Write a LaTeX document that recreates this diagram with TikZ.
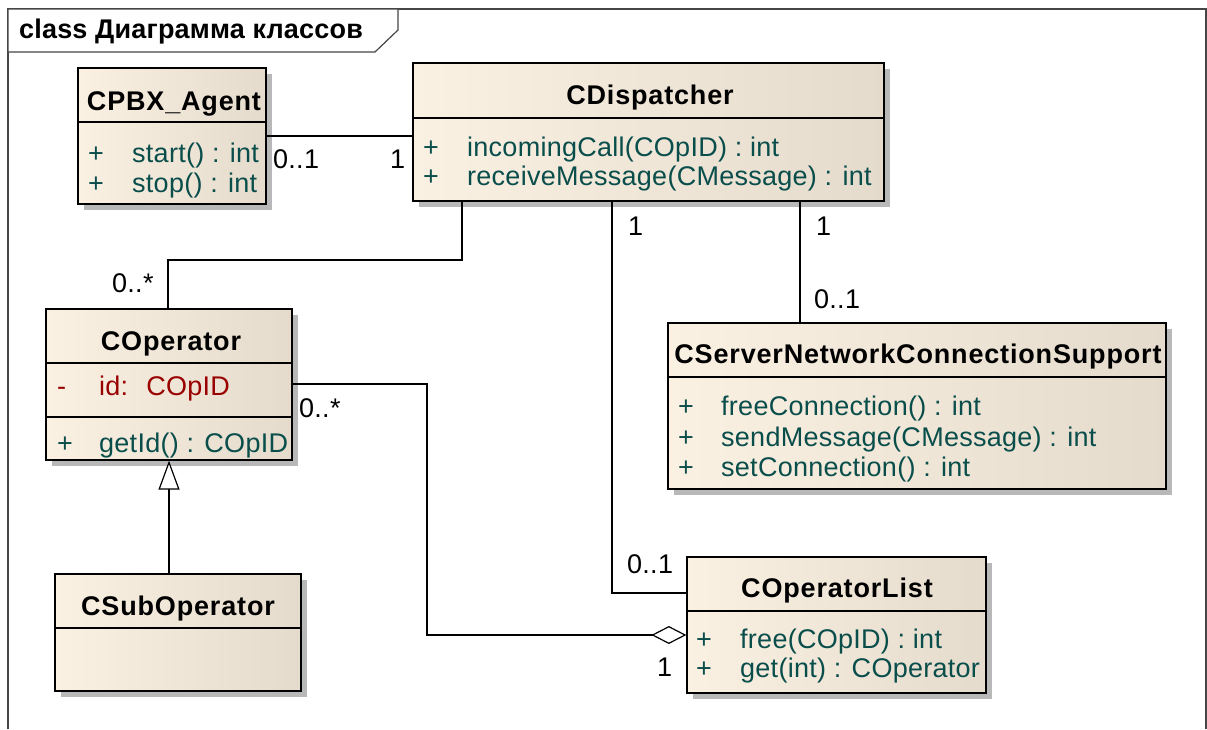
\documentclass[tikz,border=0pt]{standalone}
\usepackage{fontspec}
\setmainfont[LetterSpace=1]{Liberation Sans}
\newfontfamily\classfont[LetterSpace=3.1]{Liberation Sans}
\newfontfamily\framefont[LetterSpace=0.7]{Liberation Sans}
\usetikzlibrary{arrows.meta,shadows,calc}
\definecolor{boxL}{RGB}{251,241,227}
\definecolor{boxR}{RGB}{228,219,204}
\definecolor{memcol}{RGB}{10,78,76}
\definecolor{attrcol}{RGB}{153,0,0}
\definecolor{framecol}{RGB}{70,70,70}
\begin{document}
\begin{tikzpicture}[x=1pt,y=-1pt,
  umlbox/.style={draw=black, line width=1.3pt, left color=boxL, right color=boxR,
    drop shadow={shadow xshift=6pt, shadow yshift=-6pt, fill=black!28, opacity=1},
    inner sep=0pt, rectangle},
  sepline/.style={draw=black, line width=1.2pt},
  classtitle/.style={font=\fontsize{27}{31}\selectfont\classfont\bfseries, inner sep=0pt, anchor=base},
  mem/.style={font=\fontsize{27}{31}\selectfont, text=memcol, inner sep=0pt, anchor=base west},
  attr/.style={font=\fontsize{27}{31}\selectfont, text=attrcol, inner sep=0pt, anchor=base west},
  mult/.style={font=\fontsize{27}{31}\selectfont, text=black, inner sep=0pt, anchor=base west},
  conn/.style={draw=black, line width=1.2pt},
  ftitle/.style={font=\fontsize{27}{31}\selectfont\framefont\bfseries, inner sep=0pt, anchor=base west}
]
\useasboundingbox (0,0) rectangle (1207,729);

% frame
\draw[framecol, line width=1.3pt] (8,729) -- (8,9) -- (1206,9) -- (1206,729);
\draw[framecol, line width=1.2pt, fill=white] (8,9) -- (398,9) -- (398,30) -- (375,52) -- (8,52) -- cycle;
\node[ftitle] (frametitle) at (19,38) {class Диаграмма классов};

% boxes
\node[umlbox, minimum width=188pt, minimum height=136pt] (agent) at (172,136) {};
\node[umlbox, minimum width=471pt, minimum height=138pt] (disp) at (648.5,132) {};
\node[umlbox, minimum width=246pt, minimum height=151pt] (coper) at (169,384.5) {};
\node[umlbox, minimum width=246pt, minimum height=117pt] (csub) at (178,632.5) {};
\node[umlbox, minimum width=299pt, minimum height=136pt] (clist) at (836.5,625) {};
\node[umlbox, minimum width=498pt, minimum height=166pt] (server) at (917,406) {};

% separators
\draw[sepline] (agent.west |- 0,122) -- (agent.east |- 0,122);
\draw[sepline] (disp.west |- 0,118) -- (disp.east |- 0,118);
\draw[sepline] (coper.west |- 0,363) -- (coper.east |- 0,363);
\draw[sepline] (coper.west |- 0,417) -- (coper.east |- 0,417);
\draw[sepline] (csub.west |- 0,628) -- (csub.east |- 0,628);
\draw[sepline] (clist.west |- 0,611) -- (clist.east |- 0,611);
\draw[sepline] (server.west |- 0,377) -- (server.east |- 0,377);

% CPBX_Agent
\node[classtitle] (agentT) at (174,110) {CPBX\_Agent};
\node[mem] (agentP1) at (88,162) {+};
\node[mem] (agentM1) at (132,162) {start() : int};
\node[mem] (agentP2) at (88,192) {+};
\node[mem] (agentM2) at (132,192) {stop() : int};

% CDispatcher
\node[classtitle] (dispT) at (650,104) {CDispatcher};
\node[mem] (dispP1) at (423,156) {+};
\node[mem] (dispM1) at (467,156) {incomingCall(COpID) : int};
\node[mem] (dispP2) at (423,185) {+};
\node[mem] (dispM2) at (467,185) {receiveMessage(CMessage) : int};

% COperator
\node[classtitle] (coperT) at (171,350) {COperator};
\node[attr] (coperA1) at (57,395) {-};
\node[attr] (coperA1t) at (99,395) {id:~ COpID};
\node[mem] (coperP1) at (57,452) {+};
\node[mem] (coperM1) at (99,452) {getId() : COpID};

% CSubOperator
\node[classtitle] (csubT) at (178,615) {CSubOperator};

% COperatorList
\node[classtitle] (clistT) at (837,597) {COperatorList};
\node[mem] (clistP1) at (696,648) {+};
\node[mem] (clistM1) at (740,648) {free(COpID) : int};
\node[mem] (clistP2) at (696,677) {+};
\node[mem] (clistM2) at (740,677) {get(int) : COperator};

% CServerNetworkConnectionSupport
\node[classtitle] (serverT) at (918,363) {CServerNetworkConnectionSupport};
\node[mem] (serverP1) at (678,415) {+};
\node[mem] (serverM1) at (721,415) {freeConnection() : int};
\node[mem] (serverP2) at (678,446) {+};
\node[mem] (serverM2) at (721,446) {sendMessage(CMessage) : int};
\node[mem] (serverP3) at (678,476) {+};
\node[mem] (serverM3) at (721,476) {setConnection() : int};

% connectors
\draw[conn] (agent.east |- 0,136) -- (disp.west |- 0,136);
\draw[conn] (disp.south -| 462,0) -- (462,260) -| (coper.north -| 168,0);
\draw[conn] (disp.south -| 612,0) |- (clist.west |- 0,593);
\draw[conn] (disp.south -| 800,0) -- (server.north -| 800,0);
\draw[conn, -{Triangle[fill=white, length=29pt, width=21pt, line width=1.2pt]}]
  (csub.north -| 169,0) -- (coper.south -| 169,0);
\draw[conn, {Diamond[fill=white, length=35pt, width=18pt, line width=1.2pt]}-]
  (clist.west |- 0,635) -| (427,384) -- (coper.east |- 0,384);

% multiplicities
\node[mult] (m1) at (273,168) {0..1};
\node[mult] (m2) at (390,168) {1};
\node[mult] (m3) at (112,292) {0..*};
\node[mult] (m4) at (628,235) {1};
\node[mult] (m5) at (816,235) {1};
\node[mult] (m6) at (814,308) {0..1};
\node[mult] (m7) at (299,417) {0..*};
\node[mult] (m8) at (627,573) {0..1};
\node[mult] (m9) at (657,676) {1};
\end{tikzpicture}
\end{document}
